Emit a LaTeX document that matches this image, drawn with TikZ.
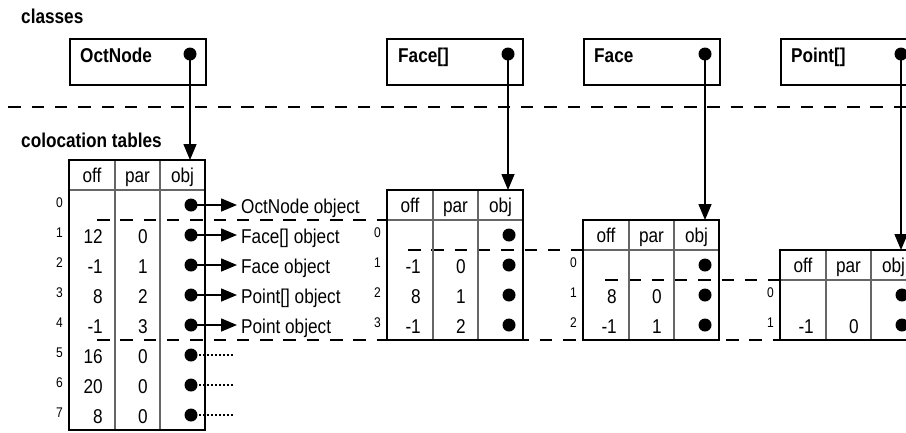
\documentclass[tikz,border=0pt]{standalone}
\usepackage{fontspec}
\setmainfont{Liberation Sans}[FakeStretch=0.86]
\usetikzlibrary{arrows.meta}

\tikzset{
  classbox/.style={draw, line width=2bp, anchor=north west, minimum width=136bp, minimum height=46bp, inner sep=0},
  classname/.style={anchor=base west, inner sep=0, font=\bfseries\fontsize{20bp}{24bp}\selectfont},
  heading/.style={anchor=base west, inner sep=0, font=\bfseries\fontsize{20bp}{24bp}\selectfont},
  tabbox/.style={anchor=north west, minimum width=136bp, inner sep=0},
  ptrdot/.style={circle, fill, inner sep=0, minimum size=13bp},
  ptr/.style={line width=1.5bp, -{Triangle[length=16bp, width=13bp]}},
  sep/.style={line width=2bp, dash pattern=on 12.5bp off 10.8bp},
  cell/.style={inner sep=0, font=\fontsize{20bp}{24bp}\selectfont},
  idx/.style={inner sep=0, anchor=base east, font=\fontsize{14bp}{16bp}\selectfont},
  grid/.style={line width=1.2bp, black!60},
  objlabel/.style={anchor=base west, inner sep=0, font=\fontsize{20bp}{24bp}\selectfont},
  unused/.style={line width=1.2bp, dash pattern=on 2bp off 2bp},
}

% name, left, top, rows, cells (row/off/par)
\newcommand{\coltable}[5]{%
  \path (#2,#3) node (#1) [tabbox, minimum height={30*(#4+1)*1bp}] {};
  \draw[grid] (#2,#3+30) -- ++(136,0);
  \draw[grid] (#2+46,#3) -- (#2+46,#3+30+30*#4);
  \draw[grid] (#2+91,#3) -- (#2+91,#3+30+30*#4);
  \draw[line width=2bp] (#1.north west) rectangle (#1.south east);
  \node (#1hoff) [cell, anchor=base] at (#2+23,#3+22) {off};
  \node (#1hpar) [cell, anchor=base] at (#2+68.5,#3+22) {par};
  \node (#1hobj) [cell, anchor=base] at (#2+113.5,#3+22) {obj};
  \foreach \row/\offv/\parv in {#5} {
    \node (#1i\row) [idx] at (#2-6,#3+47+30*\row) {\row};
    \node (#1off\row) [cell, anchor=base east] at (#2+34,#3+53+30*\row) {\offv};
    \node (#1par\row) [cell, anchor=base east] at (#2+79,#3+53+30*\row) {\parv};
    \node (#1ptr\row) [ptrdot] at (#2+122,#3+45+30*\row) {};
  }%
}

\begin{document}
\begin{tikzpicture}[x=1bp, y=-1bp]
\useasboundingbox (0,0) rectangle (906,432);

\node (classes) [heading] at (21,23) {classes};
\node (coltables) [heading] at (21,147) {colocation tables};

% class boxes
\node (octnode) [classbox] at (69,38) {};
\node (octnodename) [classname] at (80,62) {OctNode};
\node (octnodeptr) [ptrdot] at (190,54) {};

\node (facearr) [classbox] at (386,38) {};
\node (facearrname) [classname] at (398,62) {Face[]};
\node (facearrptr) [ptrdot] at (508,54) {};

\node (face) [classbox] at (583,38) {};
\node (facename) [classname] at (594,62) {Face};
\node (faceptr) [ptrdot] at (705,54) {};

\node (pointarr) [classbox] at (780,38) {};
\node (pointarrname) [classname] at (791,62) {Point[]};
\node (pointarrptr) [ptrdot] at (901,54) {};

\draw[sep, dash phase=15] (0,107) -- (906,107);

% colocation tables
\draw[sep] (97,220) -- (387,220);
\draw[sep] (408,250) -- (583,250);
\draw[sep] (605,280) -- (780,280);
\draw[sep] (97,340) -- (780,340);

\coltable{tabA}{69}{160}{8}{0//,1/12/0,2/-1/1,3/8/2,4/-1/3,5/16/0,6/20/0,7/8/0}
\coltable{tabB}{387}{190}{4}{0//,1/-1/0,2/8/1,3/-1/2}
\coltable{tabC}{583}{220}{3}{0//,1/8/0,2/-1/1}
\coltable{tabD}{780}{250}{2}{0//,1/-1/0}

% objects
\foreach \row/\obj in {0/OctNode object,1/Face[] object,2/Face object,3/Point[] object,4/Point object} {
  \node (tabAobj\row) [objlabel] at (241,213+30*\row) {\obj};
  \draw[ptr, shorten >=4bp] (tabAptr\row.center) -- (tabAptr\row.center -| tabAobj\row.west);
}
\foreach \row in {5,6,7} {
  \coordinate (tabAend\row) at (233,205+30*\row);
  \draw[unused] (tabAptr\row.center) -- (tabAend\row);
}

\draw[ptr] (octnodeptr.center) -- (octnodeptr |- tabA.north);
\draw[ptr] (facearrptr.center) -- (facearrptr |- tabB.north);
\draw[ptr] (faceptr.center) -- (faceptr |- tabC.north);
\draw[ptr] (pointarrptr.center) -- (pointarrptr |- tabD.north);
\end{tikzpicture}
\end{document}
